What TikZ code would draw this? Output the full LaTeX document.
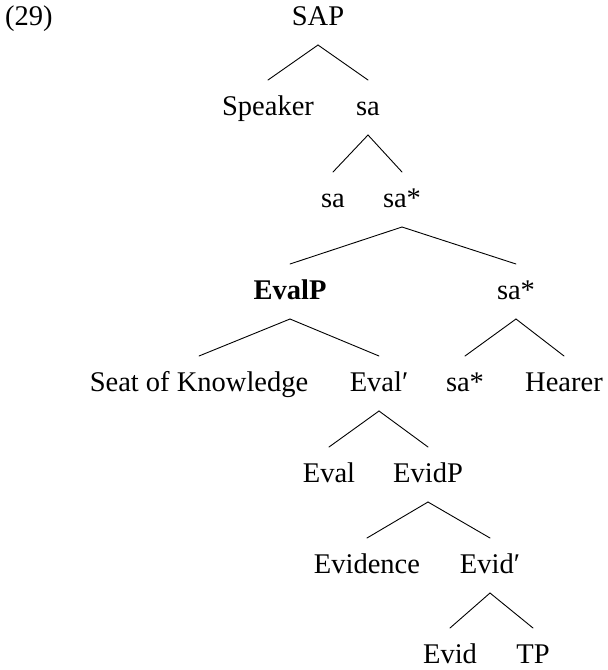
\documentclass[tikz,border=0pt]{standalone}
\usepackage{fontspec}
\setmainfont{Liberation Serif}
\begin{document}
\begin{tikzpicture}[x=1pt,y=-1pt,
  lbl/.style={anchor=base,inner sep=0pt,font=\fontsize{28.5}{34}\selectfont},
  branch/.style={line width=0.9pt,line cap=round}]
\useasboundingbox (0,0) rectangle (608,670);
% example number
\node[lbl,anchor=base west] (ex) at (5,25) {(29)};
% tree labels, placed on their baselines
\node[lbl] (sap)  at (318,25)  {SAP};
\node[lbl] (spk)  at (268,115) {Speaker};
\node[lbl] (saA)  at (368,115) {sa};
\node[lbl] (saB)  at (333,207) {sa};
\node[lbl] (saC)  at (402,207) {sa*};
\node[lbl] (evp)  at (290,299) {\textbf{EvalP}};
\node[lbl] (saD)  at (516,299) {sa*};
\node[lbl] (seat) at (199,391) {Seat of Knowledge};
\node[lbl] (evb)  at (379,391) {Eval′};
\node[lbl] (saE)  at (465,391) {sa*};
\node[lbl] (hr)   at (564,391) {Hearer};
\node[lbl] (ev)   at (329,482) {Eval};
\node[lbl] (edp)  at (428,482) {EvidP};
\node[lbl] (evi)  at (367,573) {Evidence};
\node[lbl] (edb)  at (490,573) {Evid′};
\node[lbl] (ed)   at (450,663) {Evid};
\node[lbl] (tp)   at (533,663) {TP};
% branches: from below the mother to above each daughter
\foreach \m/\d in {sap/spk, sap/saA, saA/saB, saA/saC, saC/evp, saC/saD,
                   evp/seat, evp/evb, saD/saE, saD/hr, evb/ev, evb/edp,
                   edp/evi, edp/edb, edb/ed, edb/tp}
  \draw[branch] ([yshift=-20pt]\m.base) -- ([yshift=35pt]\d.base);
\end{tikzpicture}
\end{document}
